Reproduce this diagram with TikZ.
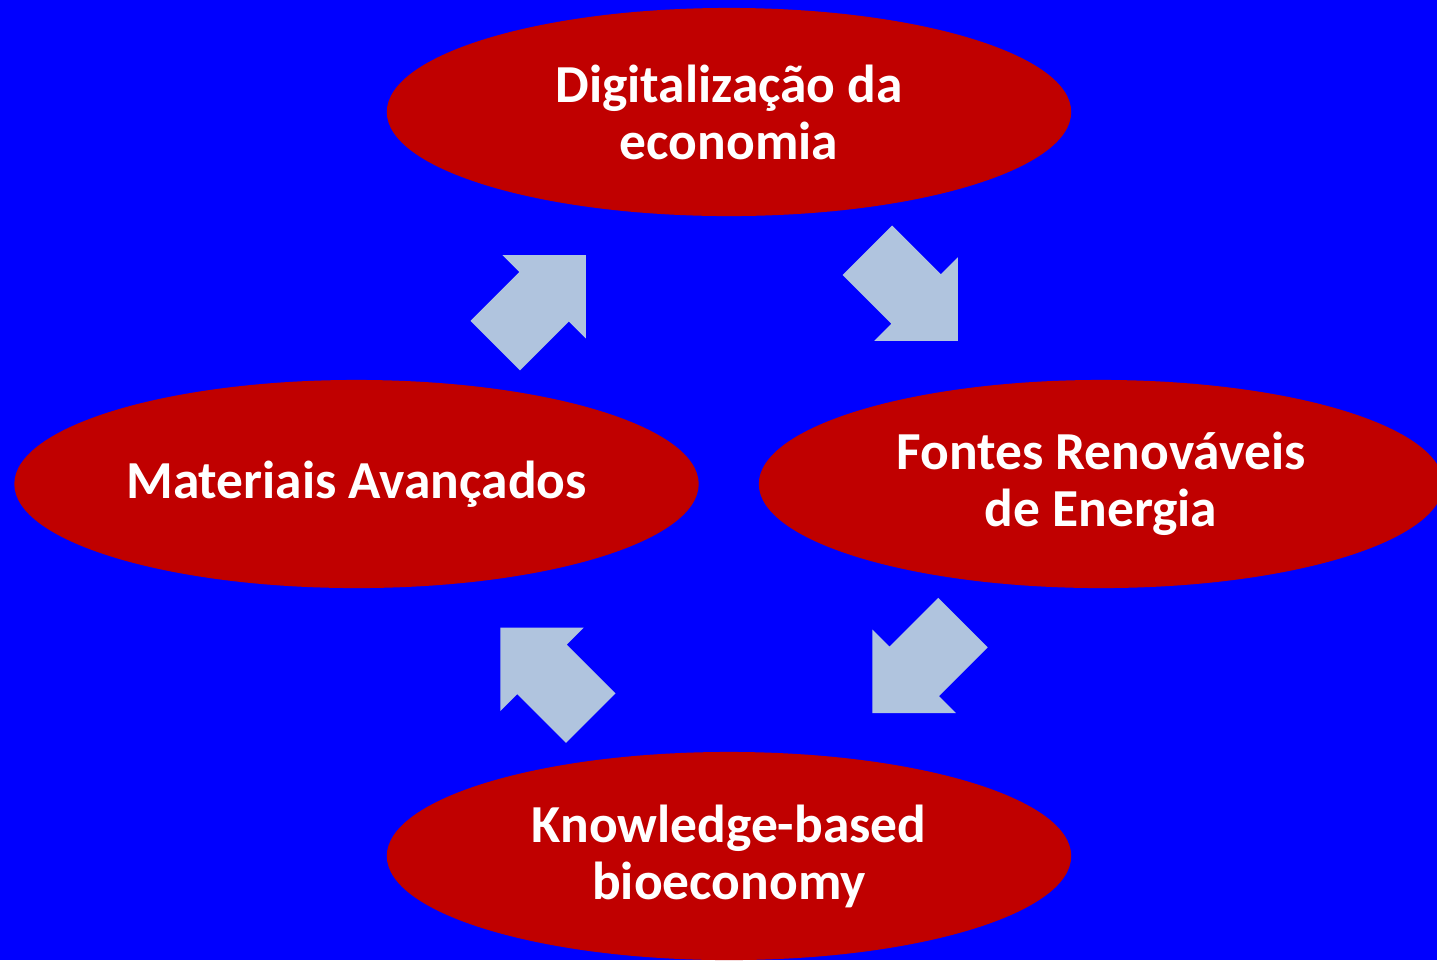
\documentclass[tikz,border=0pt]{standalone}
\usepackage{fontspec}
\setmainfont{Carlito}
\usepackage{xcolor}
\definecolor{bgblue}{HTML}{0000FF}
\definecolor{topicred}{HTML}{C00000}
\definecolor{arrowsteel}{HTML}{B0C4DE}
\usetikzlibrary{shapes.geometric}

\tikzset{
  topic/.style={ellipse, fill=topicred, text=white, inner sep=0pt,
    minimum width=6.84cm, minimum height=2.08cm, align=center,
    font=\bfseries\fontsize{15.2}{16.2}\selectfont},
  pics/blockarrow/.style={code={
    \fill[arrowsteel, rotate=#1] (-64,-35) -- (5,-35) -- (5,-59) -- (64,0)
      -- (5,59) -- (5,35) -- (-64,35) -- cycle;
  }}
}

\begin{document}
\begin{tikzpicture}[x=0.01cm, y=-0.01cm]
  % --- Background ---
  \fill[bgblue] (0,0) rectangle (1437,960);
  \useasboundingbox (0,0) rectangle (1437,960);
  \clip (0,0) rectangle (1437,960);

  % Topics
  \node[topic] (digital) at (729,112) {Digitalização da\\economia};
  \node[topic] (fontes) at (1101,484) {Fontes Renováveis\\de Energia};
  \node[topic] (bioeco) at (729,856) {Knowledge-based\\bioeconomy};
  \node[topic] (materiais) at (356.5,484) {Materiais Avançados};

  % Cycle arrows
  \pic (arrdf) at (912.5,295.5) {blockarrow=-45};
  \pic (arrfb) at (917.7,667.8) {blockarrow=-135};
  \pic (arrbm) at (545.5,672.8) {blockarrow=135};
  \pic (arrmd) at (540.5,300.3) {blockarrow=45};
\end{tikzpicture}
\end{document}
